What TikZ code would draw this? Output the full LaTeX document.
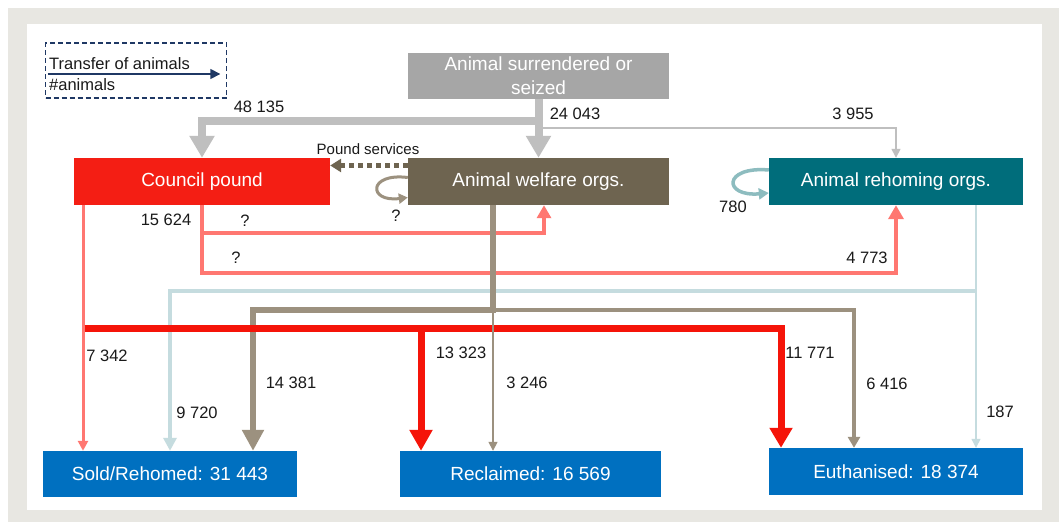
\documentclass[tikz,border=0pt]{standalone}
\usepackage{fontspec}
\setmainfont{Liberation Sans}
\usetikzlibrary{arrows.meta,calc}
\definecolor{framegray}{HTML}{E8E7E2}
\definecolor{surrgray}{HTML}{A6A6A6}
\definecolor{poundred}{HTML}{F41E14}
\definecolor{welfbrown}{HTML}{6E6450}
\definecolor{rehometeal}{HTML}{006D7B}
\definecolor{outblue}{HTML}{0070C0}
\definecolor{arrowgray}{HTML}{BFBFBF}
\definecolor{pinkline}{HTML}{FF7771}
\definecolor{lightblue}{HTML}{C5DCDF}
\definecolor{brownline}{HTML}{9C917F}
\definecolor{redline}{HTML}{F51409}
\definecolor{navy}{HTML}{1F3864}
\definecolor{loopteal}{HTML}{8DBCBF}
\definecolor{numtxt}{HTML}{1A1A1A}
\begin{document}
\begin{tikzpicture}[x=1pt,y=-1pt,line join=miter,
  box/.style={inner sep=0pt,minimum height=47pt,text=white,align=center,font=\fontsize{19}{24}\selectfont},
  num/.style={inner sep=0pt,text=numtxt,font=\fontsize{16.5}{19}\selectfont},
  arrowhead/.style 2 args={-{Triangle[width=#1,length=#2]}}]
\useasboundingbox (0,0) rectangle (1059,522);
\fill[framegray] (8,8) rectangle (1059,522);
\fill[white] (27,24) rectangle (1042,510);

% legend
\node[draw=navy,dashed,dash pattern=on 5pt off 3pt,line width=1.6pt,minimum width=181pt,minimum height=55pt,inner sep=0pt] (leg) at (136,70.5) {};
\node[num,anchor=west] (legt) at (49,64) {Transfer of animals};
\node[num,anchor=west] (legn) at (49,85) {\#animals};
\draw[navy,line width=1.6pt,arrowhead={10pt}{10pt}] ([xshift=3pt,yshift=-3.5pt]leg.west) -- ([xshift=-7pt,yshift=-3.5pt]leg.east);

% boxes
\node[box,fill=surrgray,minimum width=261pt,minimum height=46pt] (surr) at (538.5,76) {Animal surrendered or\\seized};
\node[box,fill=poundred,minimum width=256pt] (pound) at (202,181.5) {Council pound};
\node[box,fill=welfbrown,minimum width=261pt] (welfare) at (538.5,181.5) {Animal welfare orgs.};
\node[box,fill=rehometeal,minimum width=254pt] (rehome) at (896,181.5) {Animal rehoming orgs.};
\node[box,fill=outblue,minimum width=254pt,minimum height=46pt] (sold) at (170,474) {Sold/Rehomed: 31 443};
\node[box,fill=outblue,minimum width=261pt,minimum height=46pt] (recl) at (530.5,474) {Reclaimed: 16 569};
\node[box,fill=outblue,minimum width=254pt] (euth) at (896,471.5) {Euthanised: 18 374};

% intake
\draw[arrowgray,line width=8pt,arrowhead={24pt}{22pt}] (surr.south) -- ++(0,22) -| (pound.north);
\draw[arrowgray,line width=8pt,arrowhead={24pt}{22pt}] (surr.south) -- (welfare.north);
\draw[arrowgray,line width=1.5pt,arrowhead={9pt}{9pt}] ($(surr.south)+(0,29)$) -| (rehome.north);
\draw[welfbrown,line width=4.5pt,dash pattern=on 5pt off 4pt,arrowhead={13pt}{11pt}] ([yshift=16pt]welfare.west) -- ([yshift=16pt]pound.east);
\draw[brownline,line width=3pt,arrowhead={10pt}{9pt}] ([yshift=4pt]welfare.west) .. controls +(-40,-5) and +(-40,5) .. ([yshift=-16pt]welfare.west);
\draw[loopteal,line width=3.5pt,arrowhead={11pt}{10pt}] ([yshift=11.5pt]rehome.west) .. controls +(-46,-4) and +(-46,4) .. ([yshift=-11.5pt]rehome.west);

% transfers from the pound
\coordinate (pa) at ([xshift=-119pt]pound.south);
\coordinate (pb) at ($(pa)+(1.5,123)$);
\draw[pinkline,line width=4pt,arrowhead={14pt}{13pt}] (pound.south) -- ++(0,28) -| ([xshift=5.5pt]welfare.south);
\draw[pinkline,line width=4pt,arrowhead={15pt}{14pt}] (pound.south) -- ++(0,68) -| (rehome.south);
\draw[pinkline,line width=3pt,arrowhead={10pt}{10pt}] (pa) -- (pa |- sold.north);

% outcomes
\coordinate (ra) at ([xshift=80pt]rehome.south);
\coordinate (rb) at ($(ra)+(0,86)$);
\draw[lightblue,line width=1.2pt,arrowhead={9pt}{9pt}] (ra) -- (ra |- euth.north);
\draw[lightblue,line width=4.5pt,arrowhead={13pt}{13pt}] (rb) -| (sold.north);
\coordinate (wa) at ([xshift=-45.5pt]welfare.south);
\coordinate (wb) at ($(wa)+(0,105)$);
\draw[brownline,line width=6.5pt,arrowhead={21pt}{21pt}] (wa) -- (wb) -| ([xshift=83pt]sold.north);
\draw[brownline,line width=3.5pt,arrowhead={12pt}{11pt}] (wb) -| ([xshift=-42pt]euth.north);
\draw[redline,line width=7pt,arrowhead={22pt}{20pt}] (pb) -| ([xshift=-115pt]euth.north);
\draw[redline,line width=7pt,arrowhead={22pt}{21pt}] (pb) -| ([xshift=-109.5pt]recl.north);
\draw[brownline,line width=1.5pt,arrowhead={9pt}{9pt}] (wb) -- (wb |- recl.north);

% numbers
\node[num] (n48) at (259,107) {48 135};
\node[num] (n24) at (575,114) {24 043};
\node[num] (n39) at (853,114) {3 955};
\node[num,font=\fontsize{15}{18}\selectfont] (psv) at (368,149) {Pound services};
\node[num] (qw) at (396,216) {?};
\node[num] (n780) at (733,207) {780};
\node[num] (n156) at (166,220) {15 624};
\node[num] (qa) at (245,221) {?};
\node[num] (qb) at (236,258) {?};
\node[num] (n47) at (867,258) {4 773};
\node[num] (n73) at (107,356) {7 342};
\node[num] (n97) at (197,413) {9 720};
\node[num] (n143) at (291,383) {14 381};
\node[num] (n133) at (461,353) {13 323};
\node[num] (n32) at (527,383) {3 246};
\node[num] (n117) at (810,353) {11 771};
\node[num] (n64) at (887,384) {6 416};
\node[num] (n187) at (1000,412) {187};
\end{tikzpicture}
\end{document}
